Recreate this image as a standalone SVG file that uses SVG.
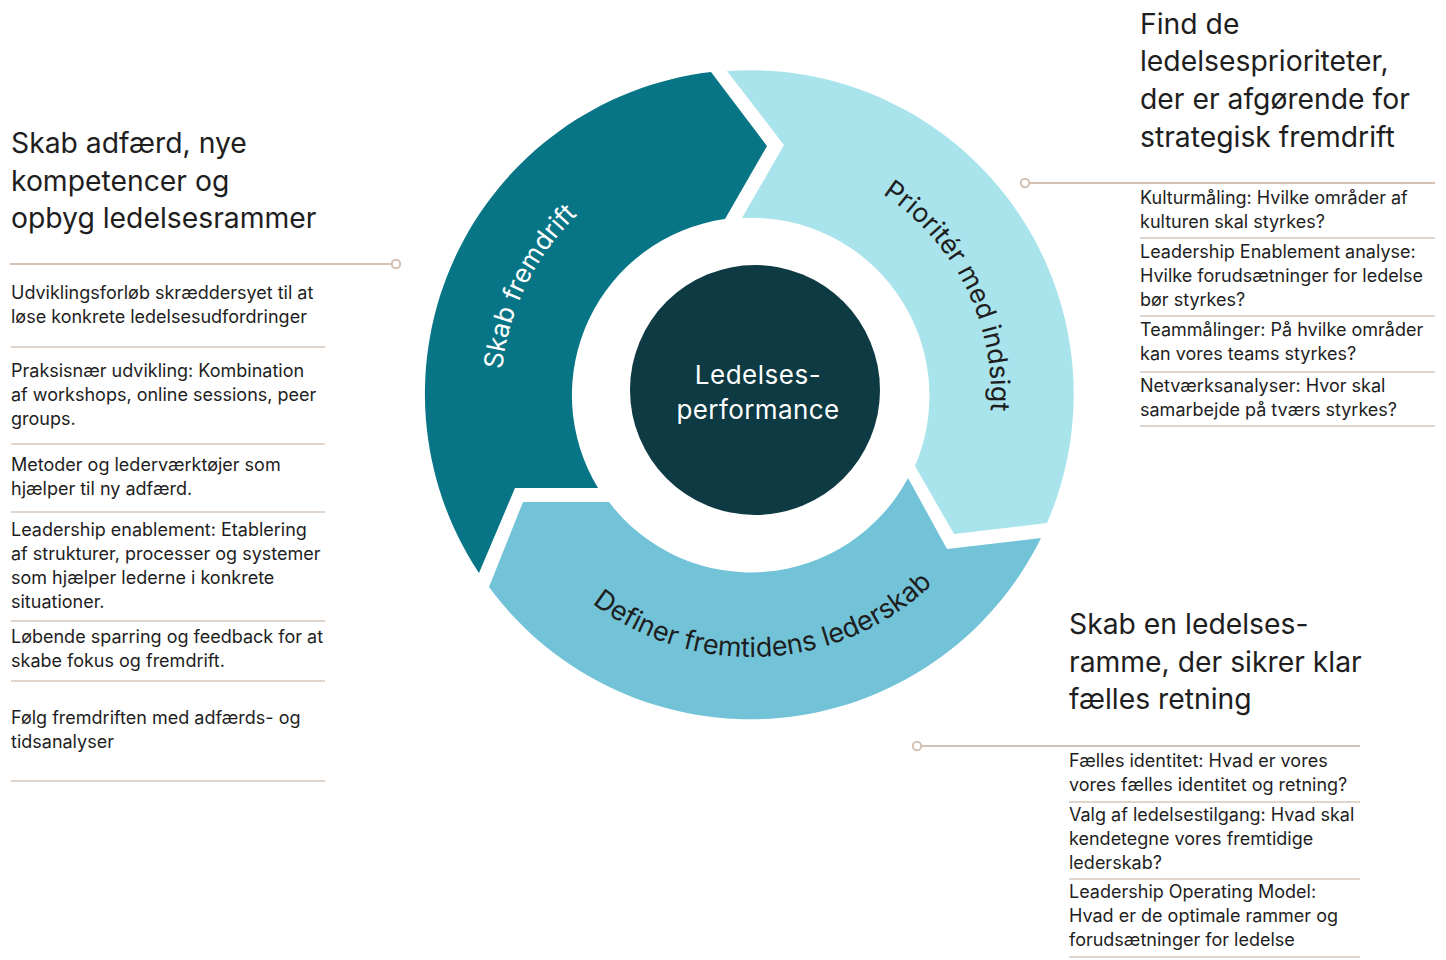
<svg xmlns="http://www.w3.org/2000/svg" xmlns:xlink="http://www.w3.org/1999/xlink" width="1446" height="960" viewBox="0 0 1446 960">
  <style>
    text { font-family: Inter, "Open Sans", "Liberation Sans", sans-serif; fill: #1e1e1e; }
    .hd { font-size: 28.3px; }
    .bd { font-size: 18px; }
    .ring { font-size: 26px; }
    .wt { fill: #ffffff; }
    .sep { stroke: #d6c6ba; stroke-width: 1.6; fill: none; }
    .con { stroke: #d3c1b5; stroke-width: 2.2; fill: none; }
    .dot { stroke: #d3c1b5; stroke-width: 2; fill: #ffffff; }
  </style>
  <defs>
    <path id="tp-skab" d="M 541.0,530.9 A 250 250 0 0 1 728.4,146.0"/>
    <path id="tp-prior" d="M 765.7,155.4 A 240 240 0 0 1 951.1,527.5"/>
    <path id="tp-def" d="M 532.0,538.8 A 262 262 0 0 0 985.1,512.7"/>
  </defs>
  <rect width="1446" height="960" fill="#ffffff"/>

  <g id="seg-skab">
    <path d="M 479,573 L 515,488 L 598,488 A 178 178 0 0 1 725,219 L 767,146 L 711,72 A 324 324 0 0 0 479,573 Z" fill="#077585"/>
    <text class="ring wt"><textPath xlink:href="#tp-skab" href="#tp-skab" startOffset="50%" text-anchor="middle">Skab fremdrift</textPath></text>
  </g>
  <g id="seg-prioriter">
    <path d="M 727,71 A 324 324 0 0 1 1047,523 L 954,534 L 915,466 A 178 178 0 0 0 742,218 L 784,145 Z" fill="#a9e3ec"/>
    <text class="ring" style="font-size:26.5px"><textPath xlink:href="#tp-prior" href="#tp-prior" startOffset="50%" text-anchor="middle">Prioritér med indsigt</textPath></text>
  </g>
  <g id="seg-definer">
    <path d="M 1041,538 A 324 324 0 0 1 489,587 L 523,502 L 609,502 A 178 178 0 0 0 908,478 L 947,549 Z" fill="#72c3d8"/>
    <text class="ring" style="font-size:27px"><textPath xlink:href="#tp-def" href="#tp-def" startOffset="50%" text-anchor="middle">Definer fremtidens lederskab</textPath></text>
  </g>
  <g id="center">
    <circle cx="755" cy="390" r="125" fill="#0e3a43"/>
    <text class="wt" x="758" y="384" font-size="26" text-anchor="middle" letter-spacing="0.5">Ledelses-</text>
    <text class="wt" x="758" y="419" font-size="26" text-anchor="middle" letter-spacing="0.4">performance</text>
  </g>

  <g id="connectors">
    <line class="con" x1="10" y1="264" x2="391" y2="264"/>
    <circle class="dot" cx="396" cy="264" r="4.2"/>
    <line class="con" x1="1029" y1="183" x2="1435" y2="183"/>
    <circle class="dot" cx="1025" cy="183" r="4.2"/>
    <line class="con" x1="922" y1="746" x2="1360" y2="746"/>
    <circle class="dot" cx="917" cy="746" r="4.2"/>
  </g>

  <g id="block-left">
    <text class="hd" x="11" y="153">Skab adfærd, nye</text>
    <text class="hd" x="11" y="191">kompetencer og</text>
    <text class="hd" x="11" y="228">opbyg ledelsesrammer</text>
    <text class="bd" x="11" y="299">Udviklingsforløb skræddersyet til at</text>
    <text class="bd" x="11" y="323">løse konkrete ledelsesudfordringer</text>
    <line class="sep" x1="11" y1="347" x2="325" y2="347"/>
    <text class="bd" x="11" y="377">Praksisnær udvikling: Kombination</text>
    <text class="bd" x="11" y="401">af workshops, online sessions, peer</text>
    <text class="bd" x="11" y="425">groups.</text>
    <line class="sep" x1="11" y1="444" x2="325" y2="444"/>
    <text class="bd" x="11" y="471">Metoder og lederværktøjer som</text>
    <text class="bd" x="11" y="495">hjælper til ny adfærd.</text>
    <line class="sep" x1="11" y1="512" x2="325" y2="512"/>
    <text class="bd" x="11" y="536">Leadership enablement: Etablering</text>
    <text class="bd" x="11" y="560">af strukturer, processer og systemer</text>
    <text class="bd" x="11" y="584">som hjælper lederne i konkrete</text>
    <text class="bd" x="11" y="608">situationer.</text>
    <line class="sep" x1="11" y1="621" x2="325" y2="621"/>
    <text class="bd" x="11" y="643">Løbende sparring og feedback for at</text>
    <text class="bd" x="11" y="667">skabe fokus og fremdrift.</text>
    <line class="sep" x1="11" y1="681" x2="325" y2="681"/>
    <text class="bd" x="11" y="724">Følg fremdriften med adfærds- og</text>
    <text class="bd" x="11" y="748">tidsanalyser</text>
    <line class="sep" x1="11" y1="781" x2="325" y2="781"/>
  </g>

  <g id="block-top-right">
    <text class="hd" x="1140" y="34">Find de</text>
    <text class="hd" x="1140" y="71">ledelsesprioriteter,</text>
    <text class="hd" x="1140" y="109">der er afgørende for</text>
    <text class="hd" x="1140" y="147">strategisk fremdrift</text>
    <text class="bd" x="1140" y="204">Kulturmåling: Hvilke områder af</text>
    <text class="bd" x="1140" y="228">kulturen skal styrkes?</text>
    <line class="sep" x1="1140" y1="238" x2="1435" y2="238"/>
    <text class="bd" x="1140" y="258">Leadership Enablement analyse:</text>
    <text class="bd" x="1140" y="282">Hvilke forudsætninger for ledelse</text>
    <text class="bd" x="1140" y="306">bør styrkes?</text>
    <line class="sep" x1="1140" y1="316" x2="1435" y2="316"/>
    <text class="bd" x="1140" y="336">Teammålinger: På hvilke områder</text>
    <text class="bd" x="1140" y="360">kan vores teams styrkes?</text>
    <line class="sep" x1="1140" y1="372" x2="1435" y2="372"/>
    <text class="bd" x="1140" y="392">Netværksanalyser: Hvor skal</text>
    <text class="bd" x="1140" y="416">samarbejde på tværs styrkes?</text>
    <line class="sep" x1="1140" y1="426" x2="1435" y2="426"/>
  </g>

  <g id="block-bottom-right">
    <text class="hd" x="1069" y="634">Skab en ledelses-</text>
    <text class="hd" x="1069" y="672">ramme, der sikrer klar</text>
    <text class="hd" x="1069" y="709">fælles retning</text>
    <text class="bd" x="1069" y="767">Fælles identitet: Hvad er vores</text>
    <text class="bd" x="1069" y="791">vores fælles identitet og retning?</text>
    <line class="sep" x1="1069" y1="802" x2="1360" y2="802"/>
    <text class="bd" x="1069" y="821">Valg af ledelsestilgang: Hvad skal</text>
    <text class="bd" x="1069" y="845">kendetegne vores fremtidige</text>
    <text class="bd" x="1069" y="869">lederskab?</text>
    <line class="sep" x1="1069" y1="879" x2="1360" y2="879"/>
    <text class="bd" x="1069" y="898">Leadership Operating Model:</text>
    <text class="bd" x="1069" y="922">Hvad er de optimale rammer og</text>
    <text class="bd" x="1069" y="946">forudsætninger for ledelse</text>
    <line class="sep" x1="1069" y1="957" x2="1360" y2="957"/>
  </g>
</svg>
